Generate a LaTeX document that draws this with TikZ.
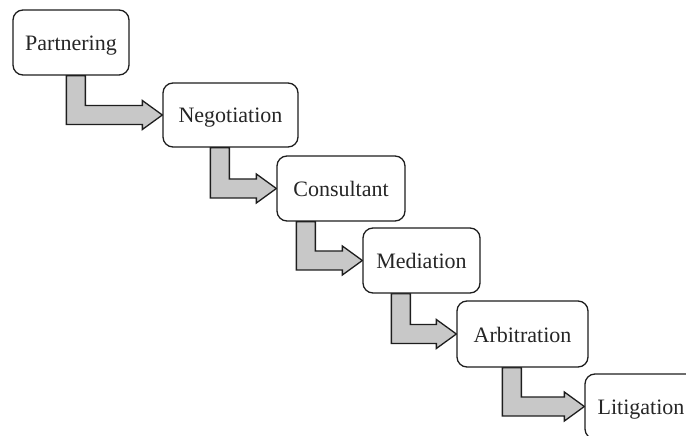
\documentclass[tikz,border=0pt]{standalone}
\usepackage{fontspec}
\setmainfont{Liberation Serif}
\usetikzlibrary{calc,backgrounds}
\definecolor{arrowgray}{RGB}{200,200,200}
\definecolor{edgecol}{RGB}{30,30,30}
\tikzset{
  stagebox/.style={draw=edgecol, line width=1.3bp, fill=white, rounded corners=10bp,
    inner sep=0pt, text height=16bp, text depth=0bp,
    font=\fontsize{22bp}{26bp}\selectfont, text=black!85},
  fatarrow/.style={draw=edgecol, line width=1.3bp, fill=arrowgray, line join=miter}
}
\newcommand\fatarrow[3]{%
  \draw[fatarrow] let \p1=(#1.south west), \p2=(#2.west) in
    (\x1+#3, \y1) -- (\x1+#3, \y2-9.5bp) -- (\x2-20bp, \y2-9.5bp) -- (\x2-20bp, \y2-14.5bp)
    -- (\p2) -- (\x2-20bp, \y2+14.5bp) -- (\x2-20bp, \y2+9.5bp) -- (\x1+#3+19bp, \y2+9.5bp)
    -- (\x1+#3+19bp, \y1) -- cycle;}
\begin{document}
\begin{tikzpicture}[x=1bp,y=-1bp]
  \useasboundingbox (0,0) rectangle (686,436);
  \clip (0,0) rectangle (686,436);
  \node[stagebox, minimum width=116bp, minimum height=65bp] (p) at (71,42.5) {Partnering};
  \node[stagebox, minimum width=135bp, minimum height=64bp] (n) at (230.5,115) {Negotiation};
  \node[stagebox, minimum width=128bp, minimum height=65bp] (c) at (341,188.5) {Consultant};
  \node[stagebox, minimum width=117bp, minimum height=65bp] (m) at (421.5,260.5) {Mediation};
  \node[stagebox, minimum width=131bp, minimum height=66bp] (a) at (522.5,334) {Arbitration};
  \node[stagebox, minimum width=112bp, minimum height=65bp] (l) at (641,406.5) {Litigation};
  \begin{scope}[on background layer]
    \fatarrow{p}{n}{54bp}
    \fatarrow{n}{c}{48bp}
    \fatarrow{c}{m}{20bp}
    \fatarrow{m}{a}{29bp}
    \fatarrow{a}{l}{46bp}
  \end{scope}
\end{tikzpicture}
\end{document}
